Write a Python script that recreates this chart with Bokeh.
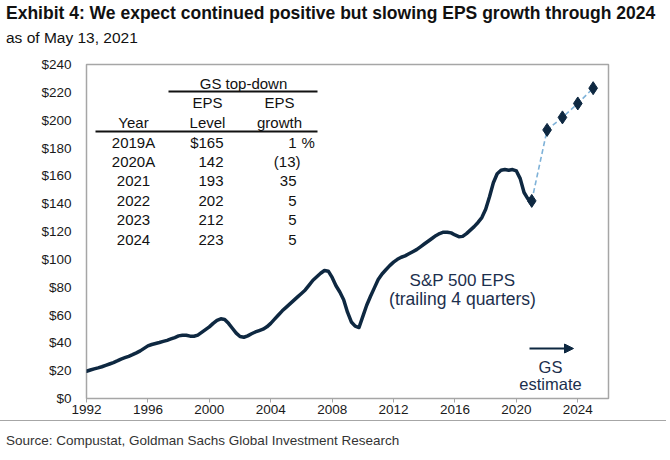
from bokeh.plotting import figure
from bokeh.layouts import column
from bokeh.models import Label, Arrow, NormalHead, FixedTicker, NumeralTickFormatter, Range1d, Div
from bokeh.embed import file_html
from bokeh.resources import INLINE

# ---------------- data ----------------
eps_x = [1992.00, 1992.25, 1992.50, 1992.75, 1993.00, 1993.25, 1993.50, 1993.75,
         1994.00, 1994.25, 1994.50, 1994.75, 1995.00, 1995.25, 1995.50, 1995.75,
         1996.00, 1996.25, 1996.50, 1996.75, 1997.00, 1997.25, 1997.50, 1997.75,
         1998.00, 1998.25, 1998.50, 1998.75, 1999.00, 1999.25, 1999.50, 1999.75,
         2000.00, 2000.25, 2000.50, 2000.75, 2001.00, 2001.25, 2001.50, 2001.75,
         2002.00, 2002.25, 2002.50, 2002.75, 2003.00, 2003.25, 2003.50, 2003.75,
         2004.00, 2004.25, 2004.50, 2004.75, 2005.00, 2005.25, 2005.50, 2005.75,
         2006.00, 2006.25, 2006.50, 2006.75, 2007.00, 2007.25, 2007.50, 2007.75,
         2008.00, 2008.25, 2008.50, 2008.75, 2009.00, 2009.25, 2009.50, 2009.75,
         2010.00, 2010.25, 2010.50, 2010.75, 2011.00, 2011.25, 2011.50, 2011.75,
         2012.00, 2012.25, 2012.50, 2012.75, 2013.00, 2013.25, 2013.50, 2013.75,
         2014.00, 2014.25, 2014.50, 2014.75, 2015.00, 2015.25, 2015.50, 2015.75,
         2016.00, 2016.25, 2016.50, 2016.75, 2017.00, 2017.25, 2017.50, 2017.75,
         2018.00, 2018.25, 2018.50, 2018.75, 2019.00, 2019.25, 2019.50, 2019.75,
         2020.00, 2020.25, 2020.50, 2020.75, 2021.00]
eps_y = [19.6, 20.5, 21.3, 22.0, 22.8, 23.8, 24.8, 25.8,
         27.0, 28.3, 29.3, 30.3, 31.5, 32.8, 34.2, 36.0,
         37.8, 38.8, 39.5, 40.2, 41.0, 41.8, 42.8, 43.8,
         45.0, 45.5, 45.5, 44.8, 44.7, 45.5, 47.5, 49.5,
         51.5, 54.0, 56.2, 57.3, 56.8, 54.0, 50.5, 47.0,
         44.5, 44.0, 45.0, 46.5, 47.8, 48.8, 49.8, 51.5,
         54.0, 57.0, 60.0, 63.0, 65.5, 68.0, 70.5, 73.0,
         75.5, 78.0, 81.5, 85.0, 87.5, 90.0, 92.0, 91.5,
         87.0, 81.0, 76.5, 71.0, 62.0, 55.0, 52.0, 51.0,
         59.0, 67.0, 73.5, 79.5, 85.5, 89.5, 92.5, 95.5,
         98.0, 100.0, 101.5, 102.5, 104.0, 105.5, 107.0, 109.0,
         111.0, 113.0, 115.0, 117.0, 118.5, 119.5, 119.5, 119.0,
         117.5, 116.3, 116.5, 118.5, 121.0, 123.5, 126.5, 130.0,
         136.0, 145.0, 155.0, 161.5, 164.0, 164.5, 164.0, 164.5,
         163.5, 158.0, 148.0, 143.5, 142.0]

tbl_years = ["2019A", "2020A", "2021", "2022", "2023", "2024"]
tbl_level = [165, 142, 193, 202, 212, 223]
tbl_growth = [1, -13, 35, 5, 5, 5]

# forecast points plotted at year end (2020A .. 2024)
fc_x = [2021, 2022, 2023, 2024, 2025]
fc_y = tbl_level[1:]

y_ticks = list(range(0, 241, 20))
x_ticks = list(range(1992, 2025, 4))

title_text = "Exhibit 4: We expect continued positive but slowing EPS growth through 2024"
subtitle_text = "as of May 13, 2021"
source_text = "Source: Compustat, Goldman Sachs Global Investment Research"

# ---------------- layout ----------------
W = 670
HEAD_H, MAIN_H, FOOT_H = 52, 368, 40
MAIN_TOP = HEAD_H
L, T, R, B = 86, 64, 608, 398          # frame edges in page pixels
FONT = "Liberation Sans"
NAVY = "#0e2841"
ANN = "#1c2f4d"

# ---- header ----
head = Div(width=W, height=HEAD_H, margin=(0, 0, 0, 0), text=(
    f'<div style="position:relative;width:{W}px;height:{HEAD_H}px;font-family:\'{FONT}\';color:#111111;">'
    f'<div style="position:absolute;left:6px;top:4px;font-size:17.5px;line-height:18px;'
    f'font-weight:bold;white-space:nowrap;">{title_text}</div>'
    f'<div style="position:absolute;left:6px;top:30px;font-size:15.5px;line-height:16px;'
    f'white-space:nowrap;">{subtitle_text}</div></div>'))

# ---- main chart ----
p = figure(width=W, height=MAIN_H, output_backend="svg", toolbar_location=None,
           x_range=Range1d(1992, 2026), y_range=Range1d(0, 240),
           min_border_left=L, min_border_right=W - R,
           min_border_top=T - MAIN_TOP, min_border_bottom=MAIN_TOP + MAIN_H - B)
p.grid.grid_line_color = None
p.outline_line_color = "#a6a6a6"
p.outline_line_width = 1.5
p.background_fill_color = "white"
p.border_fill_color = "white"

p.yaxis.ticker = FixedTicker(ticks=y_ticks)
p.yaxis.formatter = NumeralTickFormatter(format="$0")
p.xaxis.ticker = FixedTicker(ticks=x_ticks)
p.xaxis.formatter = NumeralTickFormatter(format="0")
for ax in (p.xaxis[0], p.yaxis[0]):
    ax.axis_line_color = None
    ax.major_label_text_font = FONT
    ax.major_label_text_font_size = "13.5px"
    ax.major_label_text_color = "#1a1a1a"
    ax.minor_tick_line_color = None
p.yaxis.major_tick_line_color = None
p.yaxis.major_label_standoff = 9
p.xaxis.major_tick_line_color = "#a6a6a6"
p.xaxis.major_tick_out = 4
p.xaxis.major_tick_in = 0
p.xaxis.major_label_standoff = 2

p.line(eps_x, eps_y, line_width=3.5, line_color=NAVY, line_join="round", line_cap="round")
p.line(fc_x, fc_y, line_width=1.6, line_color="#7fb2d8", line_dash="5 3")
p.scatter(fc_x, fc_y, marker="diamond", size=13, fill_color=NAVY, line_color=NAVY)


def lab(px, py, text, size, align="left", bold=False, color="#111111"):
    p.add_layout(Label(x=px - L, y=B - py, x_units="screen", y_units="screen",
                       text=text, text_font=FONT, text_font_size=f"{size}px",
                       text_align=align, text_baseline="middle", text_color=color,
                       text_font_style="bold" if bold else "normal"))


def hl(x0, x1, py, color="#111111", width=2.0):
    p.add_layout(Arrow(end=None, x_start=x0 - L, x_end=x1 - L, y_start=B - py, y_end=B - py,
                       start_units="screen", end_units="screen",
                       line_color=color, line_width=width))


# table
TS = 15
lab(243, 83, "GS top-down", TS, align="center")
hl(168, 317, 91)
lab(207, 102, "EPS", TS, align="center")
lab(279, 102, "EPS", TS, align="center")
lab(133, 122, "Year", TS, align="center")
lab(207, 122, "Level", TS, align="center")
lab(279, 122, "growth", TS, align="center")
hl(95, 317, 131)
row_y = [142, 161, 180, 200, 219, 239]
for i, (yr, lv, gr) in enumerate(zip(tbl_years, tbl_level, tbl_growth)):
    yy = row_y[i]
    lab(133, yy, yr, TS, align="center")
    lab(223, yy, ("$" if i == 0 else "") + str(lv), TS, align="right")
    if gr < 0:
        lab(300, yy, f"({abs(gr)})", TS, align="right")
    else:
        lab(296, yy, str(gr), TS, align="right")
        if i == 0:
            lab(301, yy, "%", TS, align="left")

# annotations
lab(462, 280, "S&P 500 EPS", 17, align="center", color=ANN)
lab(462, 298, "(trailing 4 quarters)", 17.5, align="center", color=ANN)
p.add_layout(Arrow(end=NormalHead(size=9, fill_color=NAVY, line_color=NAVY),
                   x_start=529 - L, x_end=573 - L, y_start=B - 348, y_end=B - 348,
                   start_units="screen", end_units="screen",
                   line_color=NAVY, line_width=1.8))
lab(550, 366, "GS", 16.5, align="center", color=ANN)
lab(550, 383, "estimate", 16.5, align="center", color=ANN)

# ---- footer ----
foot = Div(width=W, height=FOOT_H, margin=(0, 0, 0, 0), text=(
    f'<div style="position:relative;width:{W}px;height:{FOOT_H}px;font-family:\'{FONT}\';">'
    f'<div style="position:absolute;left:0px;top:0px;width:666px;height:0px;'
    f'border-top:1.5px solid #a6a6a6;"></div>'
    f'<div style="position:absolute;left:6px;top:14px;font-size:13.5px;line-height:14px;'
    f'color:#333333;white-space:nowrap;">{source_text}</div></div>'))

layout = column(head, p, foot, spacing=0)
open("out.html", "w").write(file_html(layout, INLINE))
